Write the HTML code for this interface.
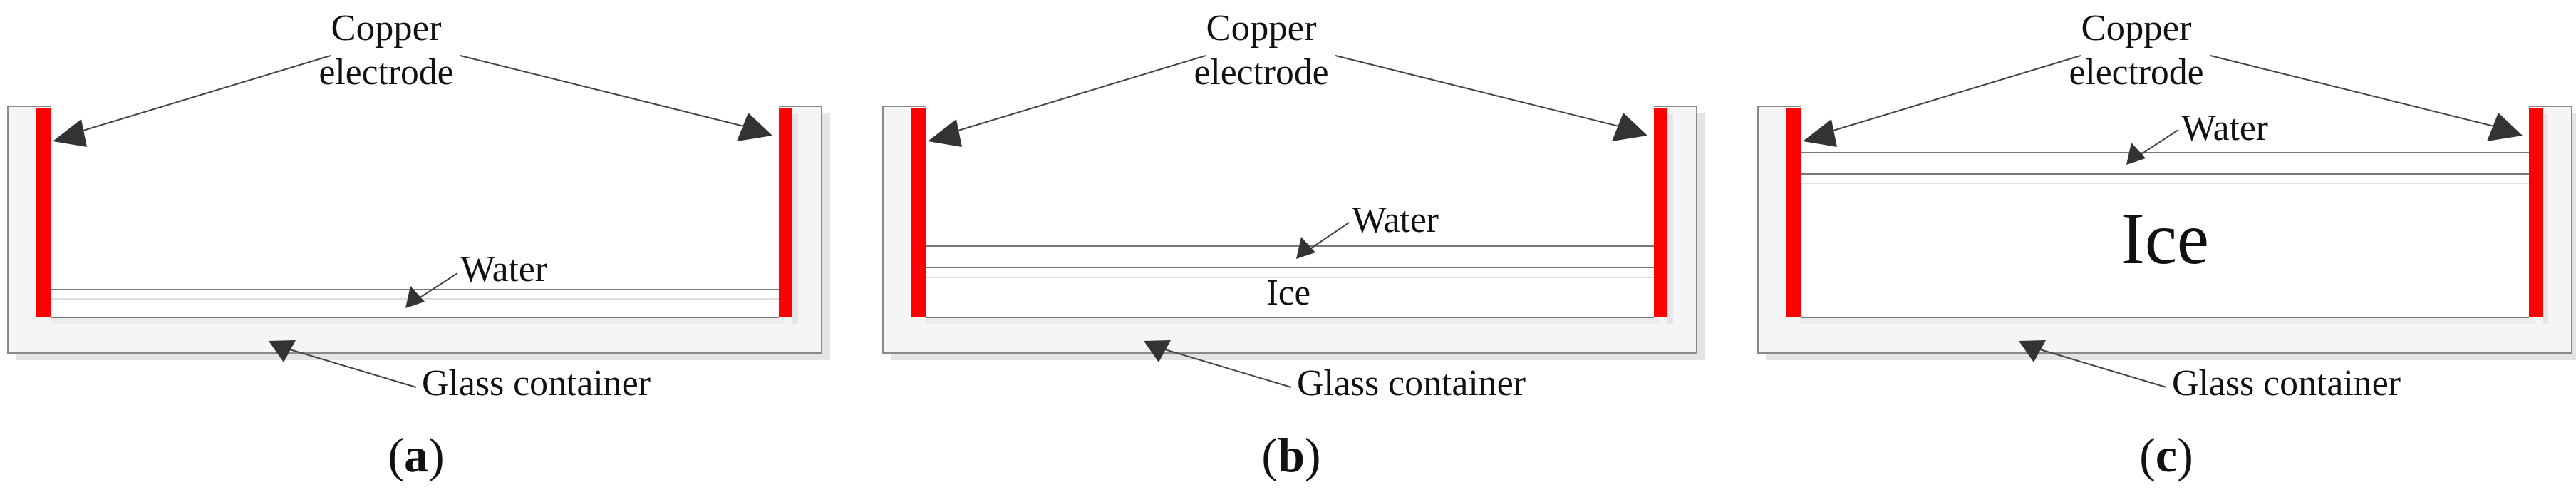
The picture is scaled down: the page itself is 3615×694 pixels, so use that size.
<!DOCTYPE html>
<html><head><meta charset="utf-8"><style>
html,body{margin:0;padding:0;background:#fff;}
svg{display:block;}
text{font-family:"Liberation Serif","DejaVu Serif",serif;fill:#111;}
</style></head><body>
<svg width="3615" height="694" viewBox="0 0 3615 694" xmlns="http://www.w3.org/2000/svg" font-family="Liberation Serif, DejaVu Serif, serif">
<defs>
<g id="cont">
  <rect x="22" y="158" width="1143" height="347" fill="#e4e4e4"/>
  <rect x="11" y="149" width="1142" height="346" fill="#f5f5f5" stroke="#8a8a8a" stroke-width="2"/>
  <rect x="71" y="146" width="1022" height="300" fill="#fff"/>
  <rect x="71" y="446" width="1030" height="8" fill="#ececec"/>
  <rect x="1112" y="160" width="8" height="294" fill="#e6e6e6"/>
  <line x1="71" y1="445" x2="1093" y2="445" stroke="#777" stroke-width="2"/>
  <rect x="51" y="151" width="20" height="294" fill="#f00"/>
  <rect x="1093" y="151" width="19" height="294" fill="#f00"/>
  <line x1="464" y1="78" x2="100" y2="188" stroke="#444" stroke-width="2"/>
  <polygon points="74,198 114,167 122,206" fill="#333"/>
  <line x1="646" y1="78" x2="1060" y2="181" stroke="#444" stroke-width="2"/>
  <polygon points="1084,190 1050,158 1034,198" fill="#333"/>
  <text x="542" y="56" font-size="52" text-anchor="middle" textLength="155" lengthAdjust="spacingAndGlyphs">Copper</text>
  <text x="542" y="118" font-size="52" text-anchor="middle" textLength="189" lengthAdjust="spacingAndGlyphs">electrode</text>
  <line x1="584" y1="543" x2="400" y2="488" stroke="#444" stroke-width="2"/>
  <polygon points="377,478 415,477 398,508" fill="#333"/>
  <text x="592" y="554" font-size="52" textLength="321" lengthAdjust="spacingAndGlyphs">Glass container</text>
</g>
</defs>

<g>
  <use href="#cont"/>
  <line x1="71" y1="406" x2="1093" y2="406" stroke="#777" stroke-width="2"/>
  <line x1="71" y1="419" x2="1093" y2="419" stroke="#ddd" stroke-width="2"/>
  <line x1="642" y1="383" x2="585" y2="420" stroke="#444" stroke-width="2"/>
  <polygon points="569,432 576,401 596,423" fill="#333"/>
  <text x="646" y="394" font-size="52" textLength="122" lengthAdjust="spacingAndGlyphs">Water</text>
  <text x="584" y="661" font-size="68" text-anchor="middle">(<tspan font-weight="bold">a</tspan>)</text>
</g>

<g transform="translate(1228,0)">
  <use href="#cont"/>
  <line x1="71" y1="345" x2="1093" y2="345" stroke="#777" stroke-width="2"/>
  <line x1="71" y1="375" x2="1093" y2="375" stroke="#777" stroke-width="2"/>
  <line x1="71" y1="389" x2="1093" y2="389" stroke="#ddd" stroke-width="2"/>
  <line x1="665" y1="312" x2="606" y2="352" stroke="#444" stroke-width="2"/>
  <polygon points="591,363 598,332 618,354" fill="#333"/>
  <text x="669" y="325" font-size="52" textLength="122" lengthAdjust="spacingAndGlyphs">Water</text>
  <text x="580" y="427" font-size="52" text-anchor="middle" textLength="62" lengthAdjust="spacingAndGlyphs">Ice</text>
  <text x="584" y="661" font-size="68" text-anchor="middle">(<tspan font-weight="bold">b</tspan>)</text>
</g>

<g transform="translate(2456,0)">
  <use href="#cont"/>
  <line x1="71" y1="214" x2="1093" y2="214" stroke="#777" stroke-width="2"/>
  <line x1="71" y1="244" x2="1093" y2="244" stroke="#777" stroke-width="2"/>
  <line x1="71" y1="257" x2="1093" y2="257" stroke="#ddd" stroke-width="2"/>
  <line x1="601" y1="182" x2="543" y2="220" stroke="#444" stroke-width="2"/>
  <polygon points="528,231 535,200 555,222" fill="#333"/>
  <text x="605" y="196" font-size="52" textLength="122" lengthAdjust="spacingAndGlyphs">Water</text>
  <text x="582" y="369" font-size="104" text-anchor="middle" textLength="124" lengthAdjust="spacingAndGlyphs">Ice</text>
  <text x="584" y="661" font-size="68" text-anchor="middle">(<tspan font-weight="bold">c</tspan>)</text>
</g>
</svg>
</body></html>
